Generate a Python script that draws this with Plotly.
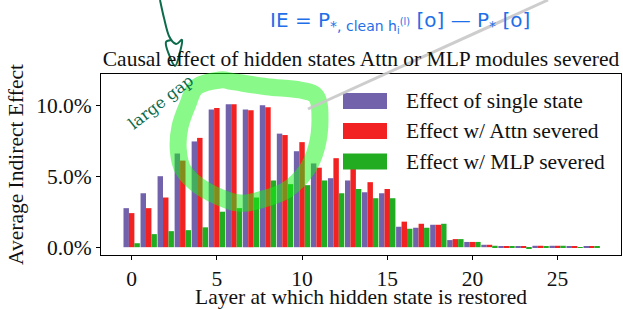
import plotly.graph_objects as go

# ---------------- data (percent) ----------------
layers = list(range(28))
single_state = [2.75, 3.8, 5.0, 6.6, 7.45, 9.7, 10.07, 9.7, 10.0, 8.0, 6.76, 5.9, 4.86, 4.7,
                3.87, 3.8, 1.44, 1.37, 1.58, 0.5, 0.37, 0.17, 0.08, 0.08, 0.1, 0.1, 0.05, 0.03]
attn_severed = [2.4, 2.75, 3.5, 6.1, 7.7, 9.8, 10.07, 9.65, 9.86, 7.9, 7.4, 5.6, 6.27, 5.7,
                4.58, 4.1, 1.8, 1.65, 1.58, 0.57, 0.37, 0.17, 0.08, 0.08, 0.1, 0.1, 0.05, 0.03]
mlp_severed = [0.28, 0.92, 1.13, 1.2, 1.4, 2.5, 2.75, 3.5, 4.7, 4.44, 4.37, 4.7, 3.8, 4.1,
               3.45, 3.45, 1.3, 1.37, 1.65, 0.57, 0.37, 0.1, 0.08, -0.1, 0.05, 0.1, -0.05, 0.02]
series_names = ["Effect of single state", "Effect w/ Attn severed", "Effect w/ MLP severed"]
x_ticks = [0, 5, 10, 15, 20, 25]
y_ticks = [0.0, 5.0, 10.0]
y_tick_labels = ["0.0%", "5.0%", "10.0%"]

colors = ["#7262ac", "#f22222", "#22ac22"]
FONT = "Liberation Serif"
FS = 21.5
W, H = 623, 309
L, R, T, B = 101, 2, 74, 54
PW, PH = W - L - R, H - T - B


def px(x, y):
    """pixel -> paper coordinates"""
    return (x - L) / PW, (H - B - y) / PH


fig = go.Figure()
for name, vals, c in zip(series_names, [single_state, attn_severed, mlp_severed], colors):
    fig.add_trace(go.Bar(x=layers, y=vals, name=name, marker=dict(color=c, line=dict(width=0)),
                         showlegend=False))

shapes = []
annotations = []

# manual legend (wide patches like matplotlib)
leg_rows = [101, 131, 161.5]
for name, c, yc in zip(series_names, colors, leg_rows):
    x0, y0 = px(343, yc - 8)
    x1, y1 = px(387, yc + 8)
    shapes.append(dict(type="rect", xref="paper", yref="paper", x0=x0, x1=x1, y0=y1, y1=y0,
                       fillcolor=c, line=dict(width=0), layer="above"))
    tx, ty = px(404, yc)
    annotations.append(dict(text=name, xref="paper", yref="paper", x=tx, y=ty,
                            xanchor="left", yanchor="middle", showarrow=False,
                            font=dict(family=FONT, size=FS, color="#111")))


# hand-drawn highlight loop
def smooth_path(pts, closed=True):
    n = len(pts)
    p = [px(*q) for q in pts]
    d = "M %.5f,%.5f" % p[0]
    rng = range(n) if closed else range(n - 1)
    for i in rng:
        p0 = p[(i - 1) % n] if (closed or i > 0) else p[i]
        p1 = p[i]
        p2 = p[(i + 1) % n]
        p3 = p[(i + 2) % n] if (closed or i + 2 < n) else p2
        c1 = (p1[0] + (p2[0] - p0[0]) / 6, p1[1] + (p2[1] - p0[1]) / 6)
        c2 = (p2[0] - (p3[0] - p1[0]) / 6, p2[1] - (p3[1] - p1[1]) / 6)
        d += " C %.5f,%.5f %.5f,%.5f %.5f,%.5f" % (c1 + c2 + p2)
    return d


loop_pts = [(196.7, 86.7), (220, 80), (233, 81.7), (266.7, 86.7), (300, 90), (316.7, 97),
            (320, 120), (316.7, 146.7), (306.7, 170), (286.7, 190), (260, 200), (243.3, 203.3),
            (226.7, 200), (200, 186.7), (183.3, 170), (178.3, 150), (180, 126.7), (188, 104)]
shapes.append(dict(type="path", xref="paper", yref="paper", path=smooth_path(loop_pts),
                   line=dict(color="rgba(20,245,20,0.5)", width=17), layer="above"))

# grey pointer line
gx0, gy0 = px(308, 109)
gx1, gy1 = px(548, 0)
shapes.append(dict(type="line", xref="paper", yref="paper", x0=gx0, y0=gy0, x1=gx1, y1=gy1,
                   line=dict(color="rgba(200,200,200,0.9)", width=3), layer="above"))

# dark green arrow with loop
arrow_pts = [(160, 0), (164, 18), (169, 36), (176, 44), (182, 40), (180, 52), (175, 66),
             (168, 52), (166, 42), (172, 40)]
shapes.append(dict(type="path", xref="paper", yref="paper", path=smooth_path(arrow_pts, closed=False),
                   line=dict(color="#0b6b4c", width=2), layer="above"))

# handwritten notes
ax_, ay_ = px(160, 102)
annotations.append(dict(text="large gap", xref="paper", yref="paper", x=ax_, y=ay_,
                        xanchor="center", yanchor="middle",
                        showarrow=False, textangle=-38,
                        font=dict(family="DejaVu Serif", size=16, color="#0b6b4c")))
bx_, by_ = px(400, 22)
annotations.append(dict(text="IE = P<sub>*, clean h<sub>i</sub><sup>(l)</sup></sub> [o] \u2014 P<sub>*</sub> [o]",
                        xref="paper", yref="paper", x=bx_, y=by_, showarrow=False,
                        xanchor="center", yanchor="middle",
                        font=dict(family="DejaVu Sans", size=20, color="#1f6fe8")))

fig.update_layout(
    width=W, height=H,
    margin=dict(l=L, r=R, t=T, b=B, pad=0, autoexpand=False),
    paper_bgcolor="white", plot_bgcolor="white",
    barmode="group", bargap=0.04, bargroupgap=0,
    font=dict(family=FONT, size=FS, color="#111"),
    title=dict(text="Causal effect of hidden states Attn or MLP modules severed",
               x=(L + PW / 2) / W, xanchor="center", xref="container",
               y=1 - 58 / H, yanchor="middle", yref="container", automargin=False,
               font=dict(family=FONT, size=FS, color="#111")),
    shapes=shapes, annotations=annotations,
    showlegend=False,
)
fig.update_xaxes(range=[-1.80, 28.72], tickvals=x_ticks, ticks="outside", ticklen=4,
                 tickcolor="black", showline=True, linecolor="black", linewidth=1, mirror=True,
                 showgrid=False, zeroline=False, automargin=False,
                 title=dict(text="Layer at which hidden state is restored", standoff=0,
                            font=dict(family=FONT, size=FS, color="#111")),
                 tickfont=dict(family=FONT, size=FS, color="#111"))
fig.update_yaxes(range=[-0.55, 12.2], tickvals=y_ticks, ticktext=y_tick_labels, ticks="outside",
                 ticklen=4, tickcolor="black", showline=True, linecolor="black", linewidth=1,
                 mirror=True, showgrid=False, zeroline=False, automargin=False,
                 title=dict(text="Average Indirect Effect", standoff=6,
                            font=dict(family=FONT, size=FS, color="#111")),
                 tickfont=dict(family=FONT, size=FS, color="#111"))

fig.write_html("out.html", config={"displayModeBar": False},
               post_script="document.body.style.margin='0px';document.body.style.overflow='hidden';")
